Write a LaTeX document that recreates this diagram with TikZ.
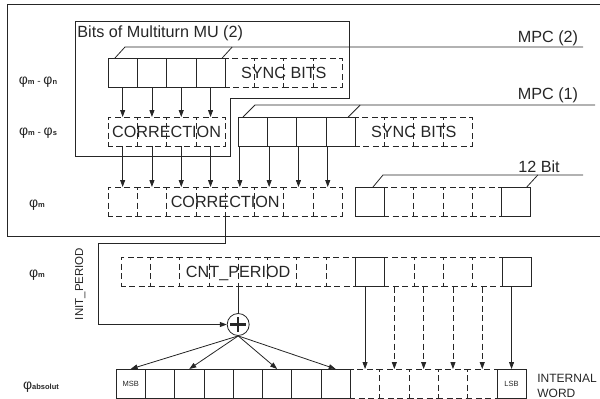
\documentclass[tikz,border=0pt]{standalone}
\usepackage{fontspec}
\setmainfont{Liberation Sans}
\usetikzlibrary{arrows.meta, positioning, calc}

\newcommand{\phisub}[1]{{\fontsize{14}{14}\selectfont φ}{\fontsize{7.5}{7.5}\selectfont\bfseries #1}}

\begin{document}
\begin{tikzpicture}[
    x=1pt, y=-1pt, line width=0.8pt, color=black!85,
    cell/.style={rectangle, draw, minimum width=29.3pt, minimum height=29pt,
        inner sep=0pt, outer sep=0pt},
    dcell/.style={cell, dash pattern=on 6pt off 3.5pt, dash phase=1.3pt},
    lbl/.style={font=\fontsize{16.2}{18}\selectfont, inner sep=0pt,
        text height=11.5pt, text depth=0pt},
    arrow/.style={-{Triangle[length=7pt, width=5pt]}},
    darrow/.style={arrow, dash pattern=on 6pt off 3.5pt},
    sum/.style={circle, draw, minimum size=22pt, inner sep=0pt,
        path picture={\draw[line width=2.4pt]
            ([xshift=-8pt]path picture bounding box.center) -- ([xshift=8pt]path picture bounding box.center)
            ([yshift=-7.5pt]path picture bounding box.center) -- ([yshift=7.5pt]path picture bounding box.center);}}
]
\useasboundingbox (0,0) rectangle (600,399);

% Frames
\draw (600,4) -| (7,236) -- (600,236);
\draw (75,21) -| (349,98) -| (230,156) -- (75,156) -- cycle;
\node[lbl, anchor=north west] (mutitle) at (77,26) {Bits of Multiturn MU (2)};

% Row labels
\node (phi1) at (38,82) {\phisub{m}\ -\ \phisub{n}};
\node (phi2) at (38,133) {\phisub{m}\ -\ \phisub{s}};
\node (phi3) at (37,205) {\phisub{m}};
\node (phi4) at (37,275) {\phisub{m}};
\node (phi5) at (41,387) {\phisub{absolut}};

% Cells
\foreach \i in {1,...,4} \node[cell] (r1c\i) at ({108+(\i-0.5)*29.3},72.5) {};
\foreach \i in {5,...,8} \node[dcell] (r1c\i) at ({108+(\i-0.5)*29.3},72.5) {};
\foreach \i in {1,...,4} \node[dcell] (r2c\i) at ({108+(\i-0.5)*29.3},131.5) {};
\foreach \i in {5,...,8} \node[cell] (r2c\i) at ({120.8+(\i-0.5)*29.3},131.5) {};
\foreach \i in {9,...,12} \node[dcell] (r2c\i) at ({120.8+(\i-0.5)*29.3},131.5) {};
\foreach \i in {1,...,8} \node[dcell] (r3c\i) at ({108+(\i-0.5)*29.3},201.5) {};
\foreach \i in {10,...,13} \node[dcell] (r3c\i) at ({120.6+(\i-0.5)*29.3},201.5) {};
\foreach \i in {9,14} \node[cell] (r3c\i) at ({120.6+(\i-0.5)*29.3},201.5) {};
\foreach \i in {1,...,8,10,11,12,13} \node[dcell] (r4c\i) at ({121+(\i-0.5)*29.3},272) {};
\foreach \i in {9,14} \node[cell] (r4c\i) at ({121+(\i-0.5)*29.3},272) {};
\foreach \i in {9,...,13} \node[dcell] (r5c\i) at ({116+(\i-0.5)*29.3},383.5) {};
\foreach \i in {1,...,8,14} \node[cell] (r5c\i) at ({116+(\i-0.5)*29.3},383.5) {};

% Cell texts
\node[lbl] (sync1) at ($(r1c5)!0.5!(r1c8)$) {SYNC BITS};
\node[lbl] (corr1) at ($(r2c1)!0.5!(r2c4)$) {CORRECTION};
\node[lbl] (sync2) at ($(r2c9)!0.5!(r2c12)$) {SYNC BITS};
\node[lbl] (corr2) at ($(r3c1)!0.5!(r3c8)$) {CORRECTION};
\node[lbl] (cnt) at ($(r4c1)!0.5!(r4c8)$) {CNT\_PERIOD};
\node[font=\fontsize{7.5}{8}\selectfont] (msb) at (r5c1) {MSB};
\node[font=\fontsize{7.5}{8}\selectfont] (lsb) at (r5c14) {LSB};
\node[font=\fontsize{12}{15}\selectfont, inner sep=0pt, anchor=north west, align=left] (iword) at (537,373.4) {INTERNAL\\WORD};

% Brackets
\coordinate (m2end) at (583,47);
\draw ([xshift=7pt]r1c1.north west) -- ++(10,-11) -- (m2end);
\draw ([xshift=-3pt]r1c4.north east) -- ++(10,-11);
\node[lbl, anchor=south] (mpc2) at (548,42.5) {MPC (2)};
\coordinate (m1end) at (595,105);
\draw ([xshift=5pt]r2c5.north west) -- ++(12,-12) -- (m1end);
\draw ([xshift=-7pt]r2c8.north east) -- ++(12,-12);
\node[lbl, anchor=south] (mpc1) at (548,100) {MPC (1)};
\coordinate (b12end) at (583,175);
\draw ([xshift=18pt]r3c9.north west) -- ++(10,-12) -- (b12end);
\draw ([xshift=-4pt]r3c14.north east) -- ++(11,-12);
\node[lbl, anchor=south] (bit12) at (539,173) {12 Bit};

% Arrows
\foreach \i in {1,...,4} \draw[arrow] (r1c\i) -- (r2c\i);
\foreach \i in {1,...,4} \draw[arrow] (r2c\i) -- (r3c\i);
\foreach \i in {5,...,8} \draw[arrow] (r3c\i.north |- r2c\i.south) -- (r3c\i.north);

% Sum
\node[sum] (sum) at (238.2,324.5) {};
\coordinate (initbend) at (98,243);
\draw[arrow] (r3c4.south east) |- (initbend) |- (sum);
\node[font=\fontsize{11.5}{12}\selectfont, inner sep=0pt, text height=8.2pt, text depth=0pt, rotate=90] (initp) at (79,284) {INIT\_PERIOD};
\draw (r4c4.south east) -- (sum);
\foreach \i in {1,3,6,8} \draw[arrow] (sum.south) -- (r5c\i.north);
\foreach \i in {9,14} \draw[arrow] (r5c\i.north |- r4c\i.south) -- (r5c\i.north);
\foreach \i in {10,...,13} \draw[darrow] (r5c\i.north |- r4c\i.south) -- (r5c\i.north);

\end{tikzpicture}
\end{document}
